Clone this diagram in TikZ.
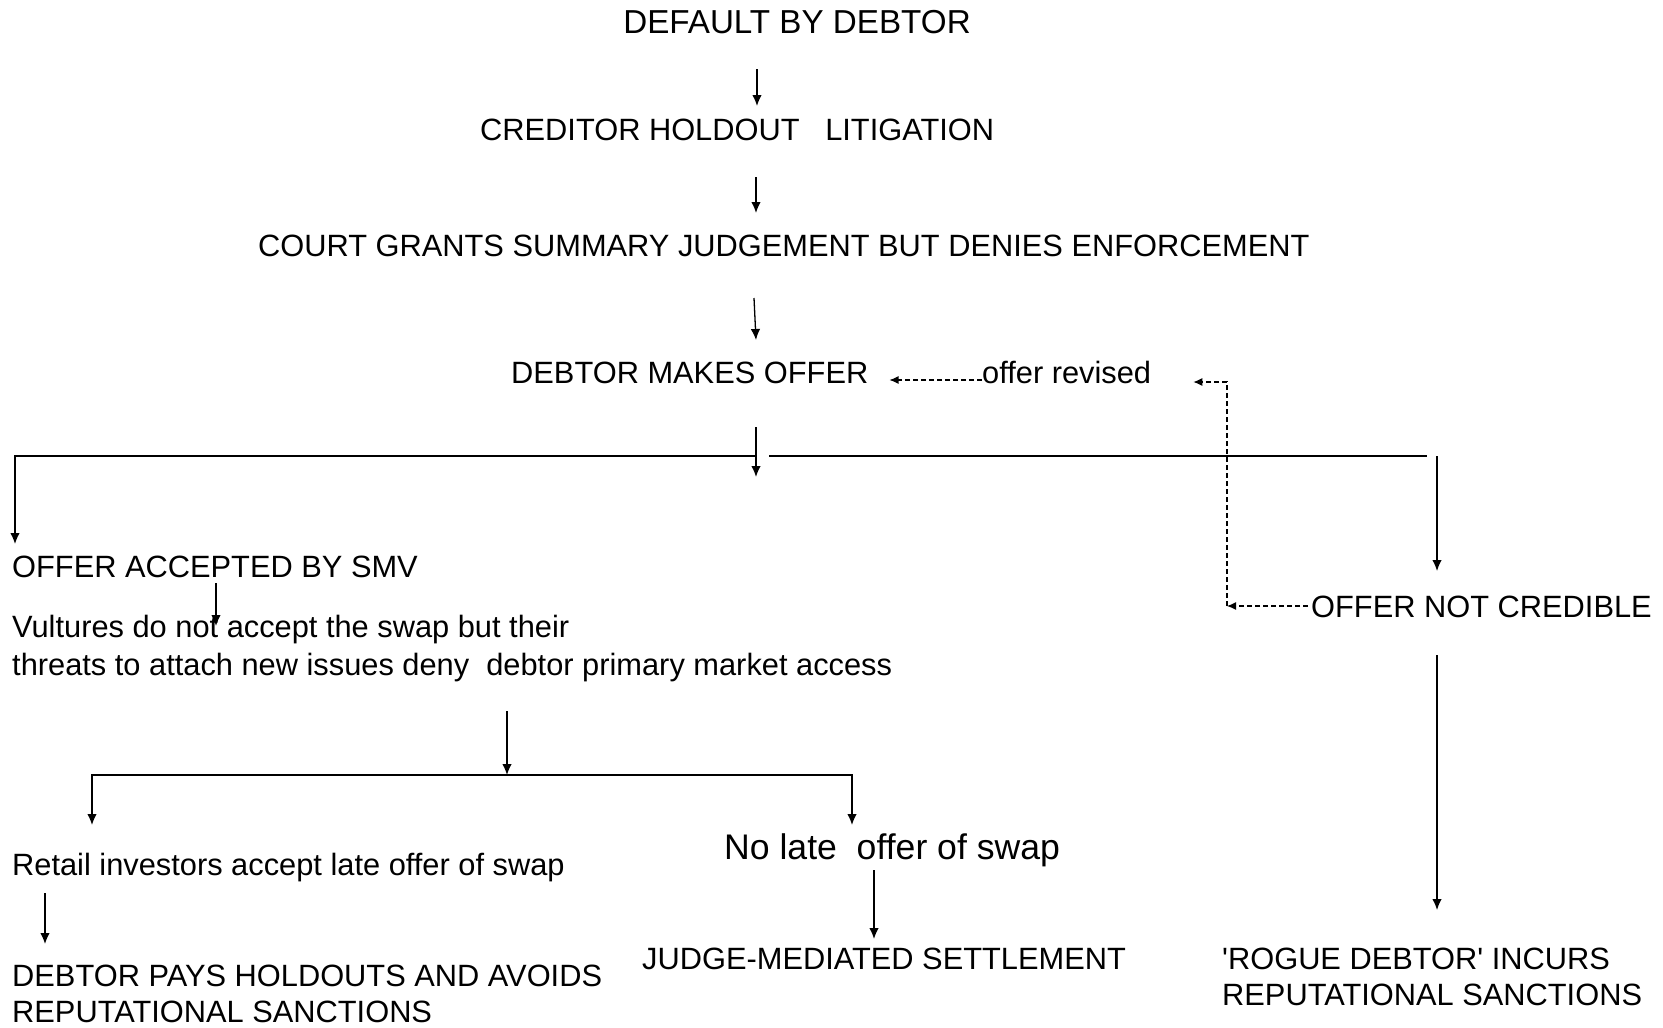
\documentclass[tikz,border=0pt]{standalone}
\usepackage{fontspec}
\setmainfont{Liberation Sans}
\usetikzlibrary{arrows.meta, positioning}
\tikzstyle{paso} = [inner sep=0pt, anchor=base west, align=left, font=\fontsize{30.8}{36}\selectfont]
\tikzstyle{flecha} = [line width=1.3pt, -{Latex[length=11pt,width=9.5pt]}]
\tikzstyle{retorno} = [line width=1.1pt, dash pattern=on 5pt off 3pt, -{Latex[length=9pt,width=8pt]}]
\tikzstyle{linea} = [line width=1.3pt]

\begin{document}
\begin{tikzpicture}[x=1pt, y=-1pt]
	\useasboundingbox (0,0) rectangle (1663,1028);
	% etapas
	\node[paso, anchor=base, font=\fontsize{33.2}{40}\selectfont] (default) at (797,33) {DEFAULT BY DEBTOR};
	\node[paso] (holdout) at (480,140) {CREDITOR HOLDOUT\ \ \ LITIGATION};
	\node[paso] (court) at (258,256) {COURT GRANTS SUMMARY JUDGEMENT BUT DENIES ENFORCEMENT};
	\node[paso] (offer) at (511,383) {DEBTOR MAKES OFFER};
	\node[paso] (revised) at (982,383) {offer revised};
	\node[paso] (accepted) at (12,577) {OFFER ACCEPTED BY SMV};
	\node[paso, font=\fontsize{30.8}{38}\selectfont] (vultures) at (12,675) {Vultures do not accept the swap but their\\threats to attach new issues deny\ \ debtor primary market access};
	\node[paso] (notcred) at (1311,617) {OFFER NOT CREDIBLE};
	\node[paso] (retail) at (12,875) {Retail investors accept late offer of swap};
	\node[paso, font=\fontsize{35.6}{42}\selectfont] (nolate) at (724,859) {No late\ \ offer of swap};
	\node[paso] (pays) at (12,1022) {DEBTOR PAYS HOLDOUTS AND AVOIDS\\REPUTATIONAL SANCTIONS};
	\node[paso] (judge) at (642,969) {JUDGE-MEDIATED SETTLEMENT};
	\node[paso] (rogue) at (1222,1005) {\textquotesingle ROGUE DEBTOR\textquotesingle\ INCURS\\REPUTATIONAL SANCTIONS};

	% flechas
	\draw[flecha] ([shift={(-40,36)}]default.base) -- ([shift={(277,-34)}]holdout.base west);
	\draw[flecha] ([shift={(276,37)}]holdout.base west) -- ([shift={(498,-43)}]court.base west);
	\draw[flecha] ([shift={(496,42)}]court.base west) -- ([shift={(245,-43)}]offer.base west);
	\draw[retorno] ([shift={(0,-3)}]revised.base west) -- ([shift={(21,-3)}]offer.base east);

	\coordinate (cruce) at ([shift={(245,73)}]offer.base west);
	\draw[flecha] ([yshift=29pt]cruce) -- ([yshift=-21pt]cruce);
	\draw[flecha] ([xshift=-1pt]cruce) -| ([shift={(3,-33)}]accepted.base west);
	\draw[linea] ([xshift=13pt]cruce) -- ++(658,0);
	\draw[flecha] ([shift={(126,-161)}]notcred.base west) -- ([shift={(126,-46)}]notcred.base west);

	\coordinate (vuelta) at ([shift={(-84,-11)}]notcred.base west);
	\draw[retorno] ([shift={(-3,-11)}]notcred.base west) -- (vuelta);
	\draw[retorno] (vuelta) |- ([shift={(42,-1)}]revised.base east);

	\draw[flecha] ([shift={(204,6)}]accepted.base west) -- ([shift={(204,-49)}]vultures.base west);

	\coordinate (cruce2) at ([shift={(495,-100)}]retail.base west);
	\draw[flecha] ([yshift=64pt]cruce2) -- (cruce2);
	\draw[flecha] (cruce2) -| ([shift={(80,-50)}]retail.base west);
	\draw[flecha] (cruce2) -| ([shift={(128,-34)}]nolate.base west);

	\draw[flecha] ([shift={(33,18)}]retail.base west) -- ([shift={(33,-78)}]pays.base west);
	\draw[flecha] ([shift={(150,11)}]nolate.base west) -- ([shift={(232,-30)}]judge.base west);
	\draw[flecha] ([shift={(126,38)}]notcred.base west) -- ([shift={(215,-95)}]rogue.base west);
\end{tikzpicture}
\end{document}
